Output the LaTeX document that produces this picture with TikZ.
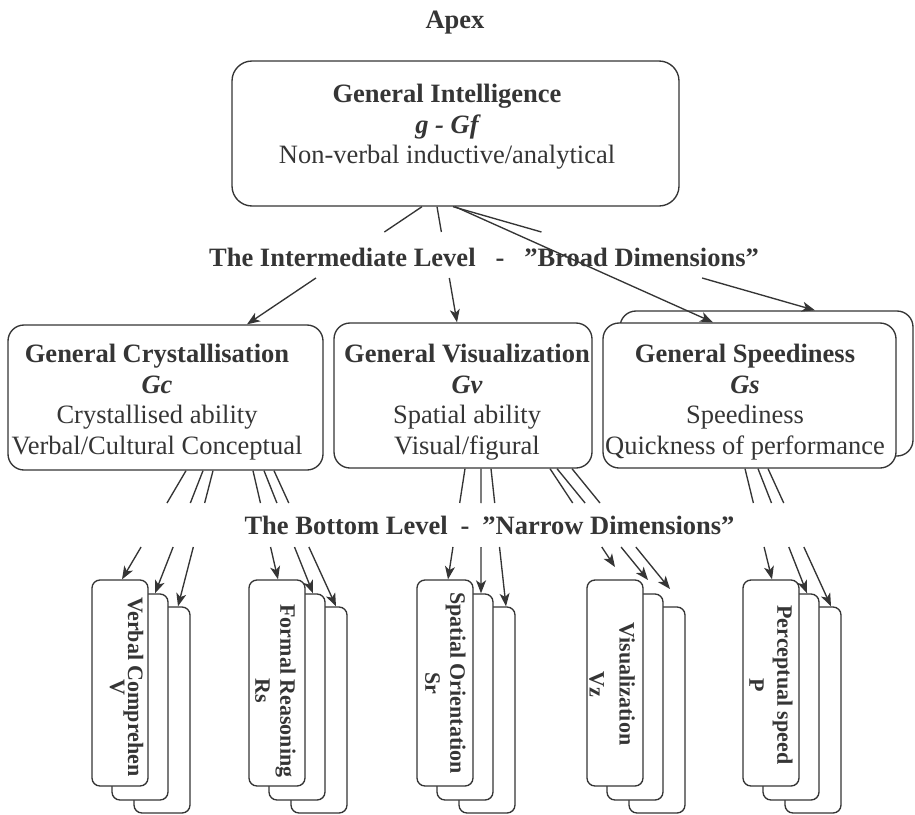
\documentclass[tikz,border=0pt]{standalone}
\usepackage{fontspec}
\setmainfont{Liberation Serif}
\usetikzlibrary{arrows.meta}
\definecolor{ink}{HTML}{353535}

% A connector interrupted by a horizontal band (where a level caption sits):
% #1 start, #2 end, #3 band top y, #4 band bottom y
\newcommand\gaplink[4]{%
  \coordinate (lkA) at #1;
  \coordinate (lkB) at #2;
  \coordinate (lkU) at (0,#3);  \coordinate (lkUr) at (915,#3);
  \coordinate (lkL) at (0,#4);  \coordinate (lkLr) at (915,#4);
  \draw[conn] (lkA) -- (intersection of lkA--lkB and lkU--lkUr);
  \draw[conn,arrowed] (intersection of lkA--lkB and lkL--lkLr) -- (lkB);
}

\tikzset{
  conn/.style={draw=ink, line width=1.35pt},
  arrowed/.style={-{Stealth[length=13pt,width=10pt,inset=3.5pt]}},
  bigbox/.style={draw=ink, line width=1.35pt, fill=white, rounded corners=20pt, inner sep=0pt},
  midbox/.style={draw=ink, line width=1.35pt, fill=white, rounded corners=16pt, inner sep=0pt,
                 minimum height=145pt},
  lowbox/.style={draw=ink, line width=1.35pt, fill=white, rounded corners=8pt, inner sep=0pt,
                 minimum width=56pt, minimum height=206pt},
  bodytext/.style={text=ink, align=center, inner sep=0pt,
                   font=\fontsize{26.5}{30.5}\selectfont},
  caption/.style={text=ink, inner sep=0pt, font=\fontsize{26.5}{30.5}\selectfont\bfseries},
  lowtext/.style={text=ink, align=center, inner sep=0pt, rotate=-90,
                  font=\fontsize{22}{25}\selectfont\bfseries},
}

\begin{document}
\begin{tikzpicture}[x=1pt,y=-1pt]
\useasboundingbox (0,0) rectangle (915,814);

% ---- apex ----
\node[caption] (apex) at (455,23) {Apex};
\node[bigbox, minimum width=447pt, minimum height=145pt] (top) at (455.5,133.5) {};
\node[bodytext] (topText) at (447,127)
  {{\bfseries General Intelligence}\\{\bfseries\itshape g - Gf}\\Non-verbal inductive/analytical};

% ---- broad dimensions ----
\node[midbox, minimum width=315pt] (gc) at (165.5,397.5) {};
\node[midbox, minimum width=258pt] (gv) at (463,395.5) {};
\node[midbox, minimum width=293pt] (gsback) at (766.5,383.5) {};
\node[midbox, minimum width=293pt] (gs) at (749.5,395.5) {};

\node[bodytext] (gcText) at (157,402)
  {{\bfseries General Crystallisation}\\{\bfseries\itshape Gc}\\Crystallised ability\\Verbal/Cultural Conceptual};
\node[bodytext] (gvText) at (467,402)
  {{\bfseries General Visualization}\\{\bfseries\itshape Gv}\\Spatial ability\\Visual/figural};
\node[bodytext] (gsText) at (745,402)
  {{\bfseries General Speediness}\\{\bfseries\itshape Gs}\\Speediness\\Quickness of performance};

% ---- narrow dimensions: stacks of three cards ----
\foreach \nm/\x in {v/120, r/277, s/445, z/615, p/771}{
  \pgfmathsetmacro\xb{\x+20}
  \pgfmathsetmacro\xc{\x+42}
  \node[lowbox] (\nm3) at (\xc,710) {};
  \node[lowbox] (\nm2) at (\xb,697) {};
  \node[lowbox] (\nm1) at (\x,683) {};
}
\node[lowtext] (vText) at (126.5,687) {Verbal Comprehen\\[-7pt]V};
\node[lowtext] (rText) at (275.5,691) {Formal Reasoning\\Rs};
\node[lowtext] (sText) at (445.5,683) {Spatial Orientation\\Sr};
\node[lowtext] (zText) at (612,684) {Visualization\\[5pt]Vz};
\node[lowtext] (pText) at (771,685) {Perceptual speed\\[3pt]P};

% ---- apex to broad dimensions ----
\gaplink{(top.south -| 422,0)}{(gc.north -| 247,0)}{232}{278}
\gaplink{(top.south -| 437,0)}{(gv.north -| 457,0)}{232}{278}
\gaplink{(top.south -| 453,0)}{(gsback.north -| 815,0)}{232}{278}

\node[caption] (midCaption) at (484,257)
  {The Intermediate Level\hspace{20pt}-\hspace{20pt}”Broad Dimensions”};

\draw[conn,arrowed] (top.south -| 455,0) -- (gs.north -| 713,0);

% ---- broad to narrow dimensions ----
\coordinate (zA) at (615,567);
\coordinate (zB) at (648,580);
\coordinate (zC) at (670,589);

\gaplink{(gc.south -| 186,0)}{(v1.north -| 122,0)}{503}{547}
\gaplink{(gc.south -| 203,0)}{(v2.north -| 155,0)}{503}{547}
\gaplink{(gc.south -| 213,0)}{(v3.north -| 178,0)}{503}{547}

\gaplink{(gc.south -| 253,0)}{(r1.north -| 278,0)}{503}{547}
\gaplink{(gc.south -| 264,0)}{(r2.north -| 313,0)}{503}{547}
\gaplink{(gc.south -| 274,0)}{(r3.north -| 336,0)}{503}{547}

\gaplink{(gv.south -| 465,0)}{(s1.north -| 448,0)}{503}{547}
\gaplink{(gv.south -| 481,0)}{(s2.north -| 481,0)}{503}{547}
\gaplink{(gv.south -| 491,0)}{(s3.north -| 506,0)}{503}{547}

\gaplink{(gv.south -| 550,0)}{(zA)}{503}{547}
\gaplink{(gv.south -| 557,0)}{(zB)}{503}{547}
\gaplink{(gv.south -| 572,0)}{(zC)}{503}{547}

\gaplink{(gs.south -| 745,0)}{(p1.north -| 772,0)}{503}{547}
\gaplink{(gs.south -| 758,0)}{(p2.north -| 807,0)}{503}{547}
\gaplink{(gs.south -| 768,0)}{(p3.north -| 831,0)}{503}{547}

\node[caption] (lowCaption) at (489.5,525)
  {The Bottom Level\hspace{13pt}-\hspace{13pt}”Narrow Dimensions”};
\end{tikzpicture}
\end{document}
